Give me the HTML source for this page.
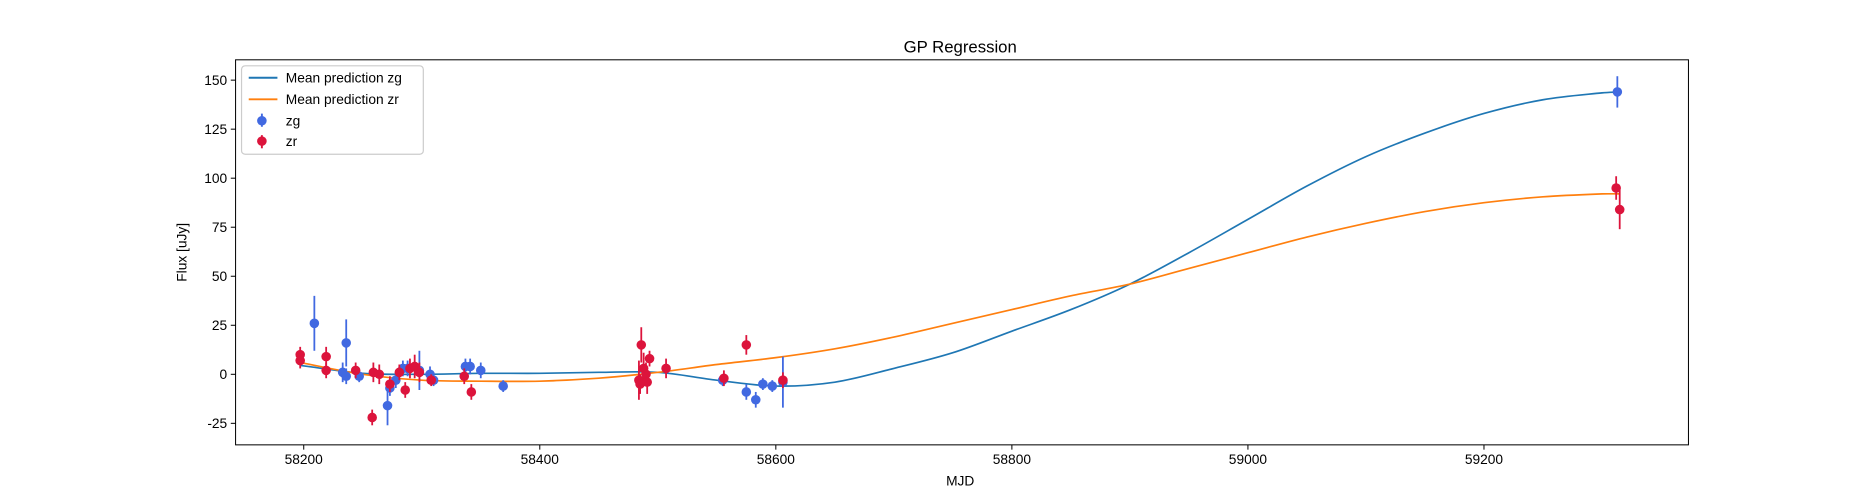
<!DOCTYPE html>
<html><head><meta charset="utf-8"><style>
body{margin:0;background:#fff;overflow:hidden;}
svg{display:block;font-family:"Liberation Sans","DejaVu Sans",sans-serif;}
</style></head><body>
<svg id="chart" width="1875" height="500" viewBox="0 0 1568 418.1">
<rect x="0" y="0" width="1568" height="419" fill="#fff"/>
<text x="803" y="44" text-anchor="middle" font-size="14">GP Regression</text>
<g id="axes"></g>
<g id="plot"></g>
<text x="803" y="406" text-anchor="middle" font-size="11.5">MJD</text>
<text transform="translate(156,211) rotate(-90)" text-anchor="middle" font-size="11.5">Flux [uJy]</text>
<g>
<rect x="202" y="55" width="152" height="74" rx="3" fill="#fff" fill-opacity="0.8" stroke="#ccc"/>
<line x1="208" y1="65" x2="232" y2="65" stroke="#1f77b4" stroke-width="1.6"/>
<text x="239" y="69" font-size="11.5">Mean prediction zg</text>
<line x1="208" y1="83" x2="232" y2="83" stroke="#ff7f0e" stroke-width="1.6"/>
<text x="239" y="87" font-size="11.5">Mean prediction zr</text>
<line x1="219" y1="95" x2="219" y2="106" stroke="royalblue" stroke-width="1.6"/>
<circle cx="219" cy="101" r="4" fill="royalblue"/>
<text x="239" y="105" font-size="11.5">zg</text>
<line x1="219" y1="113" x2="219" y2="124" stroke="crimson" stroke-width="1.6"/>
<circle cx="219" cy="118" r="4" fill="crimson"/>
<text x="239" y="122" font-size="11.5">zr</text>
</g>
</svg>
<script>
const xTicks=[58200,58400,58600,58800,59000,59200];
const yTicks=[-25,0,25,50,75,100,125,150];
const zgMjd=[58209,58236,58233,58236,58247,58271,58273,58278,58284,58288,58298,58307,58310,58337,58341,58350,58369,58555,58575,58583,58589,58597,58606,59313];
const zgFlux=[26,16,1,-1,-1,-16,-7,-3,3,3,2,0,-3,4,4,2,-6,-3,-9,-13,-5,-6,-4,144];
const zgErr=[14,12,5,4,3,10,4,4,4,4,10,4,3,4,4,4,3,3,4,4,3,3,13,8];
const zrMjd=[58197,58197,58219,58219,58244,58258,58259,58264,58273,58281,58286,58290,58294,58298,58308,58336,58342,58486,58484,58488,58490,58491,58493,58485,58507,58556,58575,58606,59312,59315];
const zrFlux=[10,7,9,2,2,-22,1,0,-5,1,-8,3,4,1,-3,-1,-9,15,-3,3,0,-4,8,-5,3,-2,15,-3,95,84];
const zrErr=[4,4,5,4,4,4,5,5,4,4,4,5,6,5,3,4,4,9,10,8,6,6,4,5,5,4,5,4,6,10];
const gpMjd=[58197,58250,58300,58350,58400,58450,58500,58550,58600,58650,58700,58750,58800,58850,58900,58950,59000,59050,59100,59150,59200,59250,59300,59315];
const gpZg=[4.5,0.5,0,0.5,0.5,1,1,-3,-6,-4,3,11,22,33,46,62,79,96,111,123,133,140,143.5,144];
const gpZr=[6,0,-3,-3.5,-3.5,-2,1,5,8.5,13,19,26,33,40,46,54,62,70,77,83,87.5,90.5,92,92];
const X0=197,X1=1412,Y0=50,Y1=372;
const xs=v=>254+(v-58200)*0.987;
const ys=v=>313-v*1.64;
const NS="http://www.w3.org/2000/svg";
function mk(t,a,p){const e=document.createElementNS(NS,t);for(const k in a)e.setAttribute(k,a[k]);p.appendChild(e);return e;}
const axes=document.getElementById('axes'),plot=document.getElementById('plot');
const frame=mk('rect',{x:X0,y:Y0,width:X1-X0,height:Y1-Y0,fill:'none',stroke:'#000','stroke-width':0.85},axes);


xTicks.forEach(t=>{const x=xs(t);
 mk('line',{x1:x,y1:Y1,x2:x,y2:Y1+4,stroke:'#000','stroke-width':0.85},axes);
 const tx=mk('text',{x:x,y:Y1+16,'text-anchor':'middle','font-size':11.5},axes);tx.textContent=t;
 
 });
yTicks.forEach(t=>{const y=ys(t);
 mk('line',{x1:X0-4,y1:y,x2:X0,y2:y,stroke:'#000','stroke-width':0.85},axes);
 const tx=mk('text',{x:X0-7,y:y+4,'text-anchor':'end','font-size':11.5},axes);tx.textContent=t;
 
 });
function curve(xv,yv){const p=xv.map((v,i)=>[xs(v),ys(yv[i])]);let d='M'+p[0][0]+','+p[0][1];
 for(let i=0;i<p.length-1;i++){const a=p[Math.max(0,i-1)],b=p[i],c=p[i+1],e=p[Math.min(p.length-1,i+2)];
  const h=c[0]-b[0];
  const s1=(c[1]-a[1])/(c[0]-a[0]||1),s2=(e[1]-b[1])/(e[0]-b[0]||1);
  d+=` C${b[0]+h/3},${b[1]+s1*h/3} ${c[0]-h/3},${c[1]-s2*h/3} ${c[0]},${c[1]}`;}
 return d;}
const l1=mk('path',{d:curve(gpMjd,gpZg),fill:'none',stroke:'#1f77b4','stroke-width':1.4},plot);


const l2=mk('path',{d:curve(gpMjd,gpZr),fill:'none',stroke:'#ff7f0e','stroke-width':1.4},plot);


function pts(m,f,e,col,name){m.forEach((v,i)=>{const g=mk('g',{},plot);
 
 
 mk('line',{x1:xs(v),x2:xs(v),y1:ys(f[i]-e[i]),y2:ys(f[i]+e[i]),stroke:col,'stroke-width':1.5},g);
 mk('circle',{cx:xs(v),cy:ys(f[i]),r:4,fill:col},g);});}
pts(zgMjd,zgFlux,zgErr,'royalblue','zg-point');
pts(zrMjd,zrFlux,zrErr,'crimson','zr-point');
</script>
</body></html>
